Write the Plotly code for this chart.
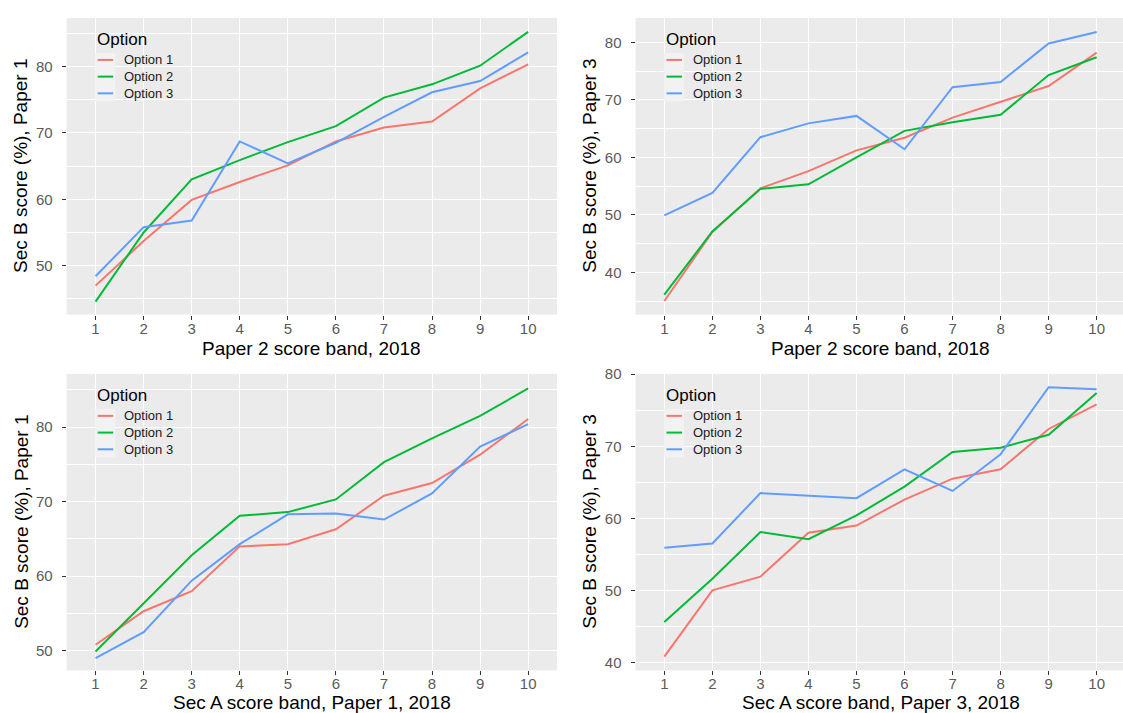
import plotly.graph_objects as go

bands = [1, 2, 3, 4, 5, 6, 7, 8, 9, 10]
options = ["Option 1", "Option 2", "Option 3"]
colors = ["#F8766D", "#00BA38", "#619CFF"]

# Panel 1: Paper 2 score band vs Sec B score, Paper 1
p1_opt1 = [47.0, 53.7, 59.9, 62.6, 65.1, 68.7, 70.8, 71.7, 76.7, 80.3]
p1_opt2 = [44.6, 55.0, 63.0, 65.9, 68.6, 71.0, 75.3, 77.3, 80.1, 85.2]
p1_opt3 = [48.4, 55.8, 56.8, 68.7, 65.4, 68.5, 72.4, 76.1, 77.8, 82.1]

# Panel 2: Paper 2 score band vs Sec B score, Paper 3
p2_opt1 = [35.0, 47.0, 54.6, 57.6, 61.2, 63.4, 66.9, 69.6, 72.4, 78.2]
p2_opt2 = [36.1, 47.1, 54.5, 55.3, 60.0, 64.6, 66.1, 67.4, 74.3, 77.4]
p2_opt3 = [49.9, 53.8, 63.5, 65.9, 67.2, 61.4, 72.2, 73.1, 79.8, 81.8]

# Panel 3: Sec A score band (Paper 1) vs Sec B score, Paper 1
p3_opt1 = [50.8, 55.3, 58.0, 64.0, 64.3, 66.3, 70.8, 72.5, 76.3, 81.1]
p3_opt2 = [49.9, 56.4, 62.8, 68.1, 68.6, 70.3, 75.3, 78.5, 81.5, 85.2]
p3_opt3 = [49.0, 52.5, 59.4, 64.3, 68.3, 68.4, 67.6, 71.1, 77.4, 80.4]

# Panel 4: Sec A score band (Paper 3) vs Sec B score, Paper 3
p4_opt1 = [40.8, 50.0, 51.9, 58.0, 59.0, 62.6, 65.5, 66.8, 72.4, 75.8]
p4_opt2 = [45.6, 51.6, 58.1, 57.1, 60.4, 64.4, 69.2, 69.8, 71.6, 77.4]
p4_opt3 = [55.9, 56.5, 63.5, 63.2, 62.8, 66.8, 63.8, 68.9, 78.2, 77.9]

x_titles = ["Paper 2 score band, 2018", "Paper 2 score band, 2018",
            "Sec A score band, Paper 1, 2018", "Sec A score band, Paper 3, 2018"]
y_titles = ["Sec B score (%), Paper 1", "Sec B score (%), Paper 3",
            "Sec B score (%), Paper 1", "Sec B score (%), Paper 3"]
y_ticks = [[50, 60, 70, 80], [40, 50, 60, 70, 80], [50, 60, 70, 80], [40, 50, 60, 70, 80]]
y_ranges = [[42.65, 87.3], [32.65, 84.25], [47.35, 87.15], [38.88, 80.05]]

panels = [
    [p1_opt1, p1_opt2, p1_opt3],
    [p2_opt1, p2_opt2, p2_opt3],
    [p3_opt1, p3_opt2, p3_opt3],
    [p4_opt1, p4_opt2, p4_opt3],
]

W, H = 1123, 713
FONT = "Liberation Sans, Arial, sans-serif"

# panel pixel boxes: (left, right, top, bottom)
boxes = [
    (66.7, 557.0, 10, 310),
    (635.5, 1123.0, 10, 310),
    (66.7, 557.0, 370, 670),
    (635.5, 1123.0, 370, 670),
]
x_ranges = [[0.4, 10.6], [0.4, 10.548], [0.4, 10.6], [0.4, 10.548]]
title_offsets = [34, 34, 32, 32]

LEG_FS = 13
ROW = LEG_FS * 1.3  # plotly's line spacing for multi-line text
ROW0 = 42.5

fx = lambda px: px / W
fy = lambda py: 1 - py / H

fig = go.Figure()
layout = dict(
    width=W, height=H,
    margin=dict(l=0, r=0, t=0, b=0),
    paper_bgcolor="white",
    plot_bgcolor="#EBEBEB",
    showlegend=False,
    font=dict(family=FONT),
)
annotations = []
shapes = []

for i, (series, box) in enumerate(zip(panels, boxes)):
    n = "" if i == 0 else str(i + 1)
    L, R, T, B = box
    for name, vals, col in zip(options, series, colors):
        fig.add_trace(go.Scatter(
            x=bands, y=vals, mode="lines", name=name,
            line=dict(color=col, width=2),
            xaxis="x" + n, yaxis="y" + n,
        ))
    layout["xaxis" + n] = dict(
        domain=[fx(L), fx(R)], anchor="y" + n,
        range=x_ranges[i], tickmode="array", tickvals=bands,
        ticktext=[str(b) for b in bands],
        showgrid=True, gridcolor="white", gridwidth=1.4,
        zeroline=False, showline=False,
        ticks="outside", ticklen=4, tickwidth=1.2, tickcolor="#333333",
        tickfont=dict(size=15, color="#5a5a5a", family=FONT),
        ticklabelstandoff=-4,
    )
    layout["yaxis" + n] = dict(
        domain=[fy(B), fy(T)], anchor="x" + n,
        range=y_ranges[i], tickmode="array", tickvals=y_ticks[i],
        showgrid=True, gridcolor="white", gridwidth=1.4,
        minor=dict(dtick=5, tick0=0, showgrid=True, gridcolor="white", gridwidth=0.7, ticks=""),
        zeroline=False, showline=False,
        ticks="outside", ticklen=4, tickwidth=1.2, tickcolor="#333333",
        tickfont=dict(size=15, color="#5a5a5a", family=FONT),
        ticklabelstandoff=6,
    )
    # axis titles
    annotations.append(dict(
        text=x_titles[i], x=fx((L + (R if i % 2 == 0 else 1125.5)) / 2),
        y=fy(B + title_offsets[i]),
        xref="paper", yref="paper", showarrow=False,
        xanchor="center", yanchor="middle",
        font=dict(size=19, color="black", family=FONT),
    ))
    annotations.append(dict(
        text=y_titles[i], x=fx(L - 46), y=fy((T + B) / 2),
        xref="paper", yref="paper", showarrow=False, textangle=-90,
        xanchor="center", yanchor="middle",
        font=dict(size=19, color="black", family=FONT),
    ))
    # legend (drawn inside the panel)
    annotations.append(dict(
        text="Option", x=fx(L + 29.5), y=fy(T + 21.5),
        xref="paper", yref="paper", showarrow=False,
        xanchor="left", yanchor="middle", borderpad=0,
        font=dict(size=17, color="black", family=FONT),
    ))
    shapes.append(dict(
        type="rect", xref="paper", yref="paper",
        x0=fx(L + 28.5), x1=fx(L + 48.5),
        y0=fy(T + ROW0 + 2 * ROW + 8), y1=fy(T + ROW0 - 7),
        fillcolor="#F2F2F2", line=dict(width=0), layer="above",
    ))
    for k, col in enumerate(colors):
        ry = T + ROW0 + k * ROW
        shapes.append(dict(
            type="line", xref="paper", yref="paper",
            x0=fx(L + 31), x1=fx(L + 46.5), y0=fy(ry), y1=fy(ry),
            line=dict(color=col, width=2), layer="above",
        ))
    annotations.append(dict(
        text="<br>".join(options), x=fx(L + 56), y=fy(T + ROW0 + ROW),
        xref="paper", yref="paper", showarrow=False, align="left",
        xanchor="left", yanchor="middle", borderpad=0,
        font=dict(size=LEG_FS, color="#1a1a1a", family=FONT),
    ))

layout["annotations"] = annotations
layout["shapes"] = shapes
fig.update_layout(**layout)
fig.write_html(
    "out.html",
    config={"displayModeBar": False},
    post_script="document.body.style.margin='0';document.body.style.padding='0';"
                "document.body.style.overflow='hidden';",
)
